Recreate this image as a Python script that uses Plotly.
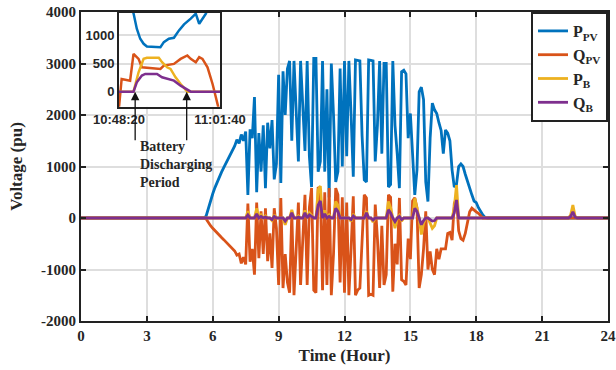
import plotly.graph_objects as go

# ---------------- main chart data (hours) ----------------
time_h = [
    0.0,
    5.5, 5.6, 5.7, 5.8, 5.9,
    6.0, 6.1, 6.2, 6.3, 6.4, 6.5, 6.6, 6.7, 6.8, 6.9,
    7.0, 7.1, 7.2, 7.3, 7.4, 7.5, 7.6, 7.7, 7.8, 7.9,
    8.0, 8.1, 8.2, 8.3, 8.4, 8.5, 8.6, 8.7, 8.8, 8.9,
    9.0, 9.1, 9.2, 9.3, 9.4, 9.5, 9.6, 9.7, 9.8, 9.9,
    10.0, 10.1, 10.2, 10.3, 10.4, 10.5, 10.6, 10.7, 10.8, 10.9,
    11.0, 11.1, 11.2, 11.3, 11.4, 11.5, 11.6, 11.7, 11.8, 11.9,
    12.0, 12.1, 12.2, 12.3, 12.4, 12.5, 12.6, 12.7, 12.8, 12.9,
    13.0, 13.1, 13.2, 13.3, 13.4, 13.5, 13.6, 13.7, 13.8, 13.9,
    14.0, 14.1, 14.2, 14.3, 14.4, 14.5, 14.6, 14.7, 14.8, 14.9,
    15.0, 15.1, 15.2, 15.3, 15.4, 15.5, 15.6, 15.7, 15.8, 15.9,
    16.0, 16.1, 16.2, 16.3, 16.4, 16.5, 16.6, 16.7, 16.8, 16.9,
    17.0, 17.1, 17.2, 17.3, 17.4, 17.5, 17.6, 17.7, 17.8, 17.9,
    18.0, 18.1, 18.2, 18.3, 18.4, 18.5,
    22.2, 22.3, 22.4, 22.5, 22.6,
    24.0,
]

p_pv = [
    0,
    0, 0, 40, 200, 340,
    470, 590, 700, 800, 890, 980, 1060, 1140, 1220, 1300,
    1400, 1520, 1450, 1620, 1500, 1680, 450, 1720, 1550, 2350,
    500, 1650, 900, 1800, 580, 1850, 1350, 1900, 750, 1050,
    2780, 680, 2850, 2000, 2900, 3050, 1500, 3050, 2100, 1100,
    3050, 2000, 1300, 3050, 1200, 600, 3100, 3100, 900, 1100,
    3050, 900, 2500, 400, 3000, 2000, 700, 900, 2900, 1000,
    3050, 1200, 3050, 2000, 800, 3070, 3060, 3050, 1600, 740,
    700, 3070, 3060, 3050, 1100, 1800, 3050, 1250, 3000, 3000,
    600, 650, 3050, 1800, 1250, 580, 2840, 2870, 2800, 1550,
    2030, 1250, 450, 930, 2450, 2540, 2300, 700, 320, 1550,
    2230, 2100, 2030, 1850, 1700, 1250, 1710, 1650, 1500, 930,
    600, 650, 1000, 1050, 1000, 850, 700, 600, 450, 330,
    300, 200, 120, 60, 10, 0,
    0, 0, 0, 0, 0,
    0,
]

q_pv = [
    0,
    0, 0, -20, -90, -150,
    -200, -250, -290, -330, -380, -420, -460, -500, -540, -590,
    -640, -720, -700, -880, -760, -900, 280, -850, -600, -1100,
    300, -780, 130, -700, 190, -840, -300, -970, 190, -200,
    -1300, 390, -1360, -700, -1250, -1450, 100, -1500, -500, 300,
    -1300, -450, 450, -1300, 200, 580, -1400, -1450, 600, 550,
    -1400, 500, -1300, 580, -1500, -700, 580, 450, -1250, 400,
    -1450, 300, -1500, -600, 420, -1500, -1400, -1360, -300, 450,
    390, -1500, -1480, -1500, 260, -400, -1360, -150, -1300, -1100,
    450, 400, -1430, -500, -900, 390, -1200, -1230, -1300, -400,
    -800, 330, 390, 200, -1360, -1100, -600, 130, -1000, -650,
    -1000, -1100, -600, -800, -600, -600, -600, -300, -280, -430,
    280, 400, -250, -400, -430, -300, -100, 120, 190, 150,
    120, 90, 40, 0, 0, 0,
    0, 0, 0, 0, 0,
    0,
]

p_b = [
    0,
    0, 0, 0, 0, 0,
    0, 0, 0, 0, 0, 0, 0, 0, 0, 0,
    0, 0, 0, 0, 0, 0, 130, 0, 0, 0,
    190, 0, 60, 0, 40, 0, 0, -50, 60, 0,
    0, 0, 0, -130, 0, 0, 160, 0, 0, 40,
    0, 0, 150, 0, 100, 50, 0, 0, 550, 620,
    0, 150, 0, 60, 0, 0, 320, 250, 0, 0,
    0, 0, 0, -70, 80, 0, 0, 0, 0, 0,
    130, 0, 0, -80, 0, 0, 0, 0, 0, 0,
    320, 200, 0, -200, 0, 50, -60, 0, 0, 0,
    0, 0, 380, 200, 0, -320, -100, 0, 0, -100,
    -200, -150, 0, 0, 0, 0, 0, 0, 0, 0,
    200, 640, 0, 0, 0, 0, 0, 0, 0, 0,
    0, 0, 0, 0, 0, 0,
    0, 60, 250, 40, 0,
    0,
]

q_b = [
    0,
    0, 0, 0, 0, 0,
    0, 0, 0, 0, 0, 0, 0, 0, 0, 0,
    0, 0, 0, 0, 0, 0, 60, 0, 0, 0,
    80, 0, 30, 0, 20, 0, 0, -30, 30, 0,
    0, 0, 0, -60, 0, 0, 100, 0, 0, 20,
    0, 0, 100, 0, 60, 30, 0, 0, 250, 330,
    0, 80, 0, 30, 0, 0, 190, 130, 0, 0,
    0, 0, 0, -30, 40, 0, 0, 0, 0, 0,
    100, 0, 0, -40, 0, 0, 0, 0, 0, 0,
    160, 100, 0, -70, 0, 30, -30, 0, 0, 0,
    0, 0, 190, 130, 0, -130, -50, 0, 0, -30,
    -60, -50, 0, 0, 0, 0, 0, 0, 0, 0,
    100, 350, 0, 0, 0, 0, 0, 0, 0, 0,
    0, 0, 0, 0, 0, 0,
    0, 30, 120, 20, 0,
    0,
]

# ---------------- inset data (seconds after 10:48:20) ----------------
inset_ppv_t = [90, 115, 141, 168, 195, 221, 328, 355, 395, 435, 475, 515, 568, 608, 635, 661, 688, 720]
inset_ppv = [1600, 1393, 1119, 940, 851, 803, 792, 881, 940, 958, 1089, 1196, 1298, 1387, 1208, 1298, 1387, 1600]
inset_qpv_t = [0, 21, 88, 115, 155, 181, 328, 355, 435, 488, 541, 568, 608, 635, 661, 701, 741, 768, 781, 800]
inset_qpv = [-280, 226, 196, 673, 583, 434, 405, 464, 494, 583, 643, 583, 524, 613, 583, 434, 137, -161, -280, -400]
inset_pb_t = [0, 115, 155, 195, 221, 315, 341, 381, 408, 448, 488, 541, 800]
inset_pb = [0, 0, 345, 583, 601, 601, 524, 434, 405, 256, 137, 0, 0]
inset_qb_t = [0, 115, 141, 181, 208, 301, 341, 395, 435, 488, 541, 568, 800]
inset_qb = [0, 0, 167, 286, 315, 315, 256, 226, 196, 107, 30, 0, 0]
inset_tick_vals = [0, 800]
inset_tick_text = ["10:48:20", "11:01:40"]
arrow_times = [128, 536]

x_ticks = [0, 3, 6, 9, 12, 15, 18, 21, 24]
y_ticks = [-2000, -1000, 0, 1000, 2000, 3000, 4000]
y_tick_text = ["-2000", "-1000", "0", "1000", "2000", "3000", "4000"]

names = ["P<sub>PV</sub>", "Q<sub>PV</sub>", "P<sub>B</sub>", "Q<sub>B</sub>"]
colors = ["#0072BD", "#D95319", "#EDB120", "#7E2F8E"]

SERIF = "Liberation Serif"
SANS = "Liberation Sans"
INK = "#262626"
GRID = "#dedede"

fig = go.Figure()
for name, vals, col in zip(names, [p_pv, q_pv, p_b, q_b], colors):
    fig.add_trace(go.Scatter(x=time_h, y=vals, mode="lines", name=name,
                             line=dict(color=col, width=2.8),
                             xaxis="x", yaxis="y"))

for tt, vals, col in zip([inset_ppv_t, inset_qpv_t, inset_pb_t, inset_qb_t],
                         [inset_ppv, inset_qpv, inset_pb, inset_qb], colors):
    fig.add_trace(go.Scatter(x=tt, y=vals, mode="lines", showlegend=False,
                             line=dict(color=col, width=2.5),
                             xaxis="x2", yaxis="y2"))

tickfont = dict(family=SERIF, size=15, color=INK, weight="bold")
fig.update_layout(
    width=616, height=370,
    margin=dict(l=81, r=8, t=12, b=49, autoexpand=False),
    paper_bgcolor="white", plot_bgcolor="white",
    showlegend=True,
    legend=dict(x=1, xanchor="right", y=1, yanchor="top",
                bgcolor="white", bordercolor="#222222", borderwidth=2,
                font=dict(family=SERIF, size=16, color=INK, weight="bold"),
                tracegroupgap=0),
    xaxis=dict(domain=[0, 1], range=[0, 24], tickmode="array", tickvals=x_ticks,
               ticks="inside", ticklen=5, tickwidth=2, tickcolor="#222222",
               showline=True, linewidth=2, linecolor="#222222", mirror="ticks",
               showgrid=True, gridcolor=GRID, gridwidth=2, zeroline=False,
               tickfont=tickfont, automargin=False,
               title=dict(text="Time (Hour)", standoff=6,
                          font=dict(family=SERIF, size=17, color=INK, weight="bold"))),
    yaxis=dict(domain=[0, 1], range=[-2000, 4000], tickmode="array", tickvals=y_ticks,
               ticktext=y_tick_text,
               ticks="inside", ticklen=5, tickwidth=2, tickcolor="#222222",
               showline=True, linewidth=2, linecolor="#222222", mirror="ticks",
               showgrid=True, gridcolor=GRID, gridwidth=2, zeroline=False,
               tickfont=tickfont, automargin=False,
               title=dict(text="Voltage (pu)", standoff=14,
                          font=dict(family=SERIF, size=17, color=INK, weight="bold"))),
    xaxis2=dict(domain=[0.0721, 0.2638], anchor="y2", range=[0, 800],
                tickmode="array", tickvals=inset_tick_vals, ticktext=inset_tick_text,
                ticks="", showline=True, linewidth=2, linecolor="#222222", mirror=True,
                showgrid=False, zeroline=False, automargin=False,
                tickfont=dict(family=SANS, size=13, color=INK, weight="bold")),
    yaxis2=dict(domain=[0.693, 0.997], anchor="x2", range=[-270, 1400],
                tickmode="array", tickvals=[0, 500, 1000],
                ticks="", showline=True, linewidth=2, linecolor="#222222", mirror=True,
                showgrid=True, gridcolor=GRID, gridwidth=2, zeroline=False,
                automargin=False,
                tickfont=dict(family=SANS, size=13, color=INK, weight="bold")),
)

for t in arrow_times:
    fig.add_annotation(x=t, y=0, xref="x2", yref="y2", ax=0, ay=50,
                       showarrow=True, arrowhead=2, arrowsize=1.3, arrowwidth=1.3,
                       arrowcolor="#111111", text="")

fig.add_annotation(x=0.108, y=0.595, xref="paper", yref="paper",
                   xanchor="left", yanchor="top", align="left", showarrow=False,
                   text="Battery<br>Discharging<br>Period",
                   font=dict(family=SERIF, size=14, color=INK, weight="bold"))

fig.write_html("out.html", config={"displayModeBar": False},
               post_script="document.body.style.margin='0px';")
